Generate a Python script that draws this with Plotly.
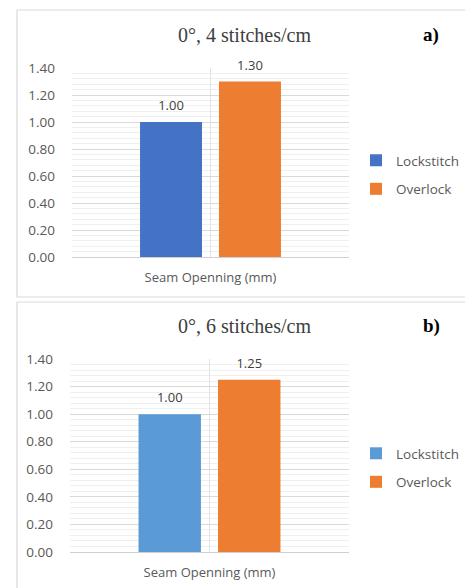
import plotly.graph_objects as go

W, H = 465, 588

categories = ["Seam Openning (mm)"]
series_names = ["Lockstitch", "Overlock"]
values_a = [1.00, 1.30]
values_b = [1.00, 1.25]
colors_a = ["#4472C4", "#ED7D31"]
colors_b = ["#5B9BD5", "#ED7D31"]
titles = ["0°, 4 stitches/cm", "0°, 6 stitches/cm"]
panel_labels = ["a)", "b)"]
y_ticks = [0, 0.2, 0.4, 0.6, 0.8, 1.0, 1.2, 1.4]
y_tick_text = ["0.00", "0.20", "0.40", "0.60", "0.80", "1.00", "1.20", "1.40"]


def px_x(x):
    return x / W


def px_y(y):
    return 1 - y / H


fig = go.Figure()

sans = "Open Sans, Liberation Sans, sans-serif"
serif = "Liberation Serif, DejaVu Serif, serif"

panels = [("x", "y", "legend", "a", values_a, colors_a),
          ("x2", "y2", "legend2", "b", values_b, colors_b)]

for xa, ya, lg, p, vals, cols in panels:
    for i, (name, v, c) in enumerate(zip(series_names, vals, cols)):
        fig.add_trace(go.Bar(
            x=categories, y=[v], name=name, marker_color=c, marker_line_width=0,
            offsetgroup=str(i), xaxis=xa, yaxis=ya, legend=lg, legendgroup=f"{p}{i}",
        ))
    for i, v in enumerate(vals):
        fig.add_trace(go.Scatter(
            x=categories, y=[v], mode="markers+text", text=[f"{v:.2f}"],
            textposition="top center", offsetgroup=str(i), cliponaxis=False,
            marker=dict(size=12, opacity=0), hoverinfo="skip",
            textfont=dict(family=sans, size=13, color="#404040"),
            xaxis=xa, yaxis=ya, showlegend=False,
        ))

xax = dict(
    showgrid=True, gridcolor="#e3e3e3", gridwidth=1,
    showline=False, zeroline=False, ticks="",
    tickfont=dict(family=sans, size=13, color="#595959"),
    ticklabelstandoff=11, automargin=False,
    range=[-0.5, 0.5], fixedrange=True,
)
yax = dict(
    range=[0, 1.4], tickvals=y_ticks, ticktext=y_tick_text,
    showgrid=True, gridcolor="#d9d9d9", gridwidth=1,
    minor=dict(dtick=0.04, showgrid=True, gridcolor="#efefef", gridwidth=1, tick0=0),
    zeroline=True, zerolinecolor="#d0d0d0", zerolinewidth=1,
    showline=False, ticks="", automargin=False, fixedrange=True,
    tickfont=dict(family=sans, size=13.5, color="#595959"),
    ticklabelstandoff=16,
)

leg = dict(xanchor="left", yanchor="top",
           font=dict(family=sans, size=13.5, color="#595959"),
           tracegroupgap=8, itemwidth=30, bgcolor="rgba(0,0,0,0)")

fig.update_layout(
    width=W, height=H,
    margin=dict(l=0, r=0, t=0, b=0, pad=0),
    paper_bgcolor="white", plot_bgcolor="white",
    barmode="group", bargap=0.43, bargroupgap=0.215,
    scattermode="group", scattergap=0.43,
    xaxis=dict(**xax, domain=[px_x(72), px_x(349)], anchor="y"),
    yaxis=dict(**yax, domain=[px_y(257), px_y(68)], anchor="x"),
    xaxis2=dict(**xax, domain=[px_x(70), px_x(349)], anchor="y2"),
    yaxis2=dict(**yax, domain=[px_y(552), px_y(359)], anchor="x2"),
    legend=dict(**leg, x=px_x(356), y=px_y(145)),
    legend2=dict(**leg, x=px_x(356), y=px_y(438)),
    showlegend=True,
)

# panel borders
fig.add_shape(type="rect", xref="paper", yref="paper",
              x0=px_x(17), x1=px_x(480), y0=px_y(297), y1=px_y(10),
              line=dict(color="#d9d9d9", width=1.2), fillcolor="rgba(0,0,0,0)", layer="below")
fig.add_shape(type="rect", xref="paper", yref="paper",
              x0=px_x(17), x1=px_x(480), y0=px_y(600), y1=px_y(302),
              line=dict(color="#d9d9d9", width=1.2), fillcolor="rgba(0,0,0,0)", layer="below")

for t, lab, ty in zip(titles, panel_labels, [35, 326]):
    fig.add_annotation(text=t, xref="paper", yref="paper", x=px_x(244), y=px_y(ty),
                       showarrow=False, xanchor="center", yanchor="middle",
                       font=dict(family=serif, size=20, color="#404040"))
    fig.add_annotation(text=f"<b>{lab}</b>", xref="paper", yref="paper", x=px_x(431), y=px_y(ty),
                       showarrow=False, xanchor="center", yanchor="middle",
                       font=dict(family=serif, size=19, color="#000000"))

fig.write_html(
    "out.html",
    config={"displayModeBar": False},
    post_script="document.body.style.margin='0';document.body.style.overflow='hidden';",
)
